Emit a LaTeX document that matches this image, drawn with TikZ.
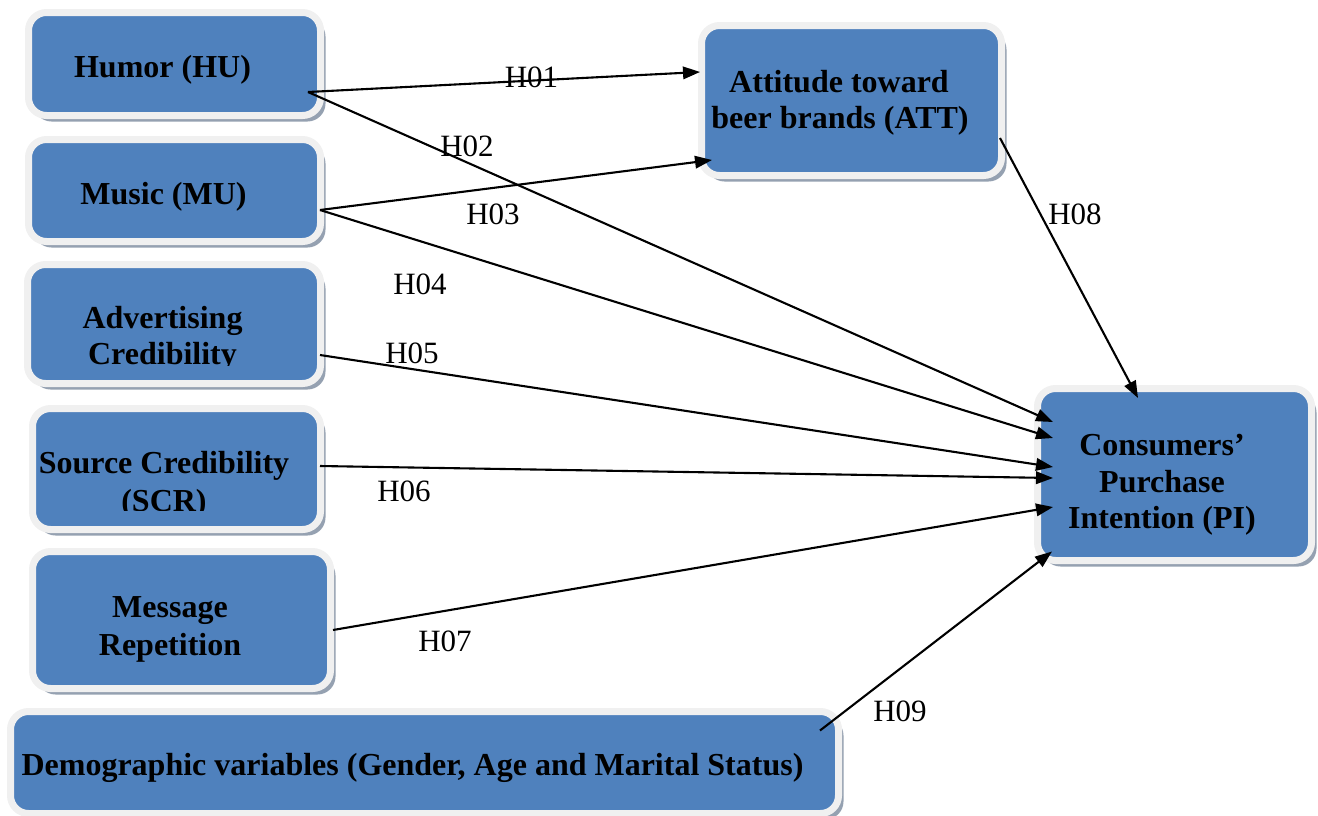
\documentclass[tikz,border=0pt]{standalone}
\usepackage{fontspec}
\setmainfont{Liberation Serif}
\usetikzlibrary{shadows,calc,arrows.meta}
\definecolor{boxblue}{HTML}{4F81BD}
\definecolor{ringc}{HTML}{F0F0F0}
\definecolor{shadowc}{HTML}{95A1B1}
\tikzset{
  varbox/.style={rectangle, rounded corners=18pt, fill=boxblue, draw=ringc, line width=7pt,
    inner sep=0pt, outer sep=0pt,
    drop shadow={shadow xshift=5pt, shadow yshift=-6pt, fill=shadowc, opacity=1}},
  boxtext/.style={anchor=base, inner sep=0pt, font=\fontsize{32}{37}\selectfont\bfseries},
  hlabel/.style={anchor=base, inner sep=0pt, font=\fontsize{31}{36}\selectfont},
  link/.style={line width=2.1pt, -{Triangle[length=17pt,width=12.5pt]}}
}
\begin{document}
\begin{tikzpicture}[x=1pt,y=-1pt]
\useasboundingbox (0,0) rectangle (1318,815);
% boxes
\node[varbox, minimum width=292pt, minimum height=103pt] (hu) at (174.5,64) {};
\node[varbox, minimum width=292pt, minimum height=102pt] (mu) at (174.5,190.5) {};
\node[varbox, minimum width=293pt, minimum height=119pt] (ac) at (174,324) {};
\node[varbox, minimum width=288pt, minimum height=121pt] (scr) at (176.5,469) {};
\node[varbox, minimum width=298pt, minimum height=137pt] (mr) at (181.5,620) {};
\node[varbox, minimum width=828pt, minimum height=102pt] (dem) at (424.5,762.5) {};
\node[varbox, minimum width=300pt, minimum height=150pt] (att) at (851.5,100.5) {};
\node[varbox, minimum width=274pt, minimum height=172pt] (pi) at (1174.5,474.5) {};
% box texts
\node[boxtext] (hu-t) at (162.5,77) {Humor (HU)};
\node[boxtext] (mu-t) at (163.5,204) {Music (MU)};
\node[boxtext] (ac-t1) at (162.5,328) {Advertising};
\begin{scope}
  \clip (40,335) rectangle (300,365);
  \node[boxtext] (ac-t2) at (162.5,364) {Credibility};
\end{scope}
\node[boxtext] (scr-t1) at (164,473) {Source Credibility};
\begin{scope}
  \clip (40,480) rectangle (300,510);
  \node[boxtext] (scr-t2) at (164,511) {(SCR)};
\end{scope}
\node[boxtext] (mr-t1) at (170,617) {Message};
\node[boxtext] (mr-t2) at (170,655) {Repetition};
\node[boxtext] (dem-t) at (412.5,775) {Demographic variables (Gender, Age and Marital Status)};
\node[boxtext] (att-t1) at (839,92) {Attitude toward};
\node[boxtext] (att-t2) at (840,128) {beer brands (ATT)};
\node[boxtext] (pi-t1) at (1162,455) {Consumers’};
\node[boxtext] (pi-t2) at (1162,492) {Purchase};
\node[boxtext] (pi-t3) at (1162,528) {Intention (PI)};
% connectors
\draw[link] ($(hu.east)+(-12.5,28)$) -- ($(att.west)+(-1.5,-28.5)$);
\draw[link] ($(hu.east)+(-12.5,28)$) -- ($(pi.west)+(15.5,-52.5)$);
\draw[link] ($(mu.east)+(-0.5,19.5)$) -- ($(att.west)+(10.5,59.5)$);
\draw[link] ($(mu.east)+(-0.5,19.5)$) -- ($(pi.west)+(15.5,-36.5)$);
\draw[link] ($(ac.east)+(-0.5,31)$) -- ($(pi.west)+(15.5,-7.5)$);
\draw[link] ($(scr.east)+(-0.5,-3)$) -- ($(pi.west)+(15.5,3.5)$);
\draw[link] ($(mr.east)+(2.5,10)$) -- ($(pi.west)+(15.5,32.5)$);
\draw[link] ($(att.east)+(-1.5,37.5)$) -- ($(pi.north)+(-36.5,9.5)$);
\draw[link] ($(dem.north east)+(-18.5,19)$) -- ($(pi.south west)+(14.5,-9)$);
% labels
\node[hlabel] (h01) at (531.5,87) {H01};
\node[hlabel] (h02) at (467,156) {H02};
\node[hlabel] (h03) at (493,224) {H03};
\node[hlabel] (h04) at (420,294) {H04};
\node[hlabel] (h05) at (412,363) {H05};
\node[hlabel] (h06) at (404,501) {H06};
\node[hlabel] (h07) at (445,651) {H07};
\node[hlabel] (h08) at (1075,224) {H08};
\node[hlabel] (h09) at (900,721) {H09};
\end{tikzpicture}
\end{document}
